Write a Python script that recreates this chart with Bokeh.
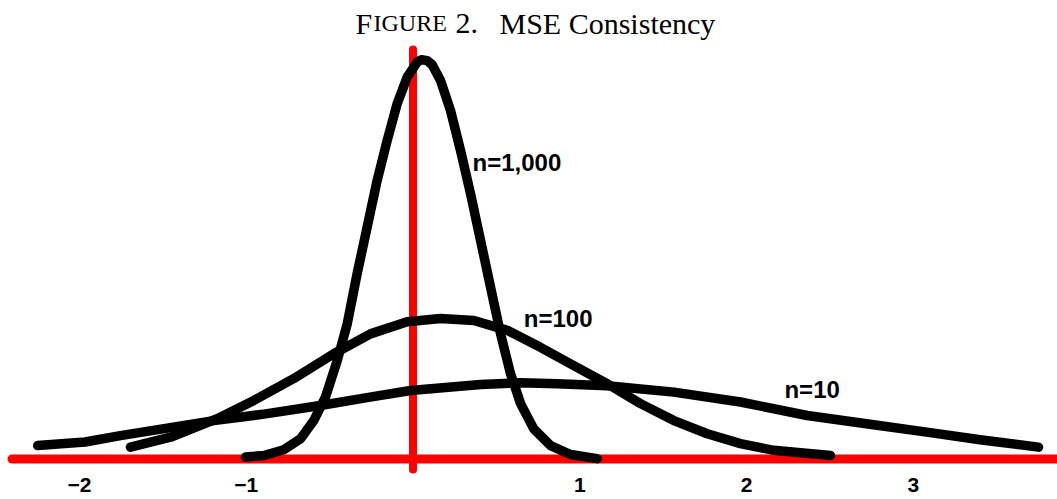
from bokeh.plotting import figure
from bokeh.models import Range1d, ColumnDataSource
from bokeh.core.properties import value
from bokeh.embed import file_html
from bokeh.resources import INLINE

# ---------------- data ----------------
n1000_x = [-1.004, -0.894, -0.775, -0.674, -0.595, -0.525, -0.454, -0.394, -0.335, -0.275,
           -0.215, -0.155, -0.095, -0.035, 0.025, 0.051, 0.085, 0.115, 0.165, 0.225, 0.285,
           0.345, 0.405, 0.465, 0.525, 0.585, 0.645, 0.724, 0.825, 0.944, 1.104]
n1000_y = [0.006, 0.011, 0.029, 0.063, 0.120, 0.193, 0.308, 0.423, 0.579, 0.724,
           0.870, 0.995, 1.110, 1.193, 1.240, 1.248, 1.245, 1.232, 1.183, 1.089, 0.964,
           0.829, 0.683, 0.537, 0.391, 0.266, 0.173, 0.094, 0.042, 0.014, 0.001]

n100_x = [-1.694, -1.454, -1.174, -0.954, -0.716, -0.475, -0.255, -0.035, 0.165, 0.365,
          0.565, 0.764, 0.964, 1.164, 1.364, 1.564, 1.764, 1.963, 2.163, 2.503]
n100_y = [0.037, 0.068, 0.126, 0.183, 0.251, 0.329, 0.391, 0.429, 0.439, 0.433,
          0.402, 0.349, 0.292, 0.235, 0.173, 0.120, 0.079, 0.048, 0.027, 0.011]

n10_x = [-2.250, -1.966, -1.754, -1.194, -0.884, -0.555, -0.285, -0.015, 0.405, 0.645, 0.864,
         1.164, 1.564, 1.963, 2.363, 2.761, 3.080, 3.400, 3.750]
n10_y = [0.042, 0.053, 0.073, 0.120, 0.141, 0.167, 0.191, 0.214, 0.233, 0.238, 0.235,
         0.229, 0.209, 0.178, 0.136, 0.107, 0.084, 0.060, 0.037]

series_names = ["n=1,000", "n=100", "n=10"]

tick_values = [-2, -1, 1, 2, 3]
tick_labels = ["\u22122", "\u22121", "1", "2", "3"]

title_parts = ["F", "IGURE", "2.", "MSE Consistency"]

# ---------------- layout / style constants ----------------
X_RANGE = (-2.4730, 3.8639)
Y_RANGE = (-0.1266, 1.4328)
VLINE_EXTENT = (-0.0328, 1.2797)
HLINE_EXTENT = (-2.404, 3.90)

label_pos = {"n=1,000": (0.357, 0.902), "n=100": (0.664, 0.414), "n=10": (2.227, 0.193)}
title_x = [-0.3447, -0.2368, 0.2548, 0.5186]
title_sizes = ["30px", "24px", "30px", "30px"]
title_y = 1.3297
tick_label_y = -0.1203

RED = "#ff0000"

p = figure(width=1057, height=499, output_backend="svg", toolbar_location=None,
           x_range=Range1d(*X_RANGE), y_range=Range1d(*Y_RANGE),
           min_border=0, min_border_left=0, min_border_right=0,
           min_border_top=0, min_border_bottom=0)
p.xaxis.visible = False
p.yaxis.visible = False
p.xgrid.visible = False
p.ygrid.visible = False
p.outline_line_color = None
p.background_fill_color = "white"
p.border_fill_color = "white"

# red axes
p.segment(x0=[HLINE_EXTENT[0]], y0=[0], x1=[HLINE_EXTENT[1]], y1=[0],
          line_color=RED, line_width=9, line_cap="round")
p.segment(x0=[0], y0=[VLINE_EXTENT[0]], x1=[0], y1=[VLINE_EXTENT[1]],
          line_color=RED, line_width=8, line_cap="round")

# curves
for xs, ys in [(n10_x, n10_y), (n100_x, n100_y), (n1000_x, n1000_y)]:
    p.line(xs, ys, line_color="black", line_width=9.5, line_cap="round", line_join="round")

# series labels
for name in series_names:
    lx, ly = label_pos[name]
    p.text(x=[lx], y=[ly], text=[name], text_font=value("Liberation Sans"),
           text_font_style="bold", text_font_size="24px", text_color="black",
           text_align="left", text_baseline="alphabetic", y_offset=-8)

# tick labels
src = ColumnDataSource(dict(x=tick_values, y=[tick_label_y] * len(tick_values), t=tick_labels))
p.text(x="x", y="y", text="t", source=src, text_font=value("Liberation Sans"),
       text_font_style="bold", text_font_size="21px", text_color="black",
       text_align="center", text_baseline="alphabetic", y_offset=-12)

# title (small caps emulated)
for part, tx, ts in zip(title_parts, title_x, title_sizes):
    p.text(x=[tx], y=[title_y], text=[part], text_font=value("Liberation Serif"),
           text_font_size=ts, text_color="black", text_align="left",
           text_baseline="alphabetic", y_offset=-10)

open("out.html", "w").write(file_html(p, INLINE))
